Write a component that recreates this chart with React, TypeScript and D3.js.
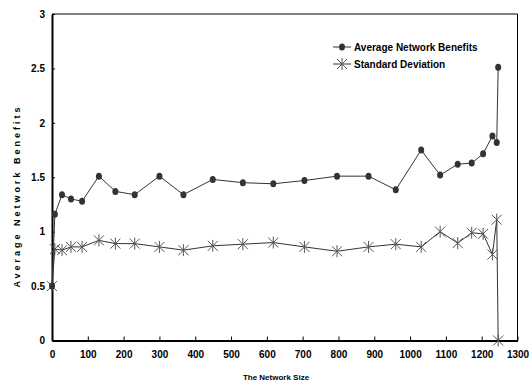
import * as d3 from "d3";
import { useEffect, useRef } from "react";

// network size for each sample
const sizes = [0, 8, 28, 53, 84, 131, 177, 231, 300, 367, 449, 533, 618, 705, 796, 884, 960, 1031, 1084, 1133, 1172, 1204, 1230, 1242, 1246];
// average network benefits
const avgBenefits = [0.5, 1.16, 1.34, 1.3, 1.28, 1.51, 1.37, 1.34, 1.51, 1.34, 1.48, 1.45, 1.44, 1.47, 1.51, 1.51, 1.385, 1.75, 1.52, 1.62, 1.63, 1.715, 1.88, 1.82, 2.51];
// standard deviation
const stdDev = [0.5, 0.84, 0.83, 0.86, 0.86, 0.92, 0.89, 0.89, 0.86, 0.83, 0.87, 0.885, 0.9, 0.86, 0.82, 0.86, 0.885, 0.86, 1.0, 0.895, 0.99, 0.98, 0.79, 1.11, 0];

const xTicks = [0, 100, 200, 300, 400, 500, 600, 700, 800, 900, 1000, 1100, 1200, 1300];
const yTicks = [0, 0.5, 1, 1.5, 2, 2.5, 3];

const W = 532;
const H = 388;
const FONT = "'Liberation Sans', Arial, sans-serif";

export default function App() {
    const ref = useRef<SVGSVGElement>(null);

    useEffect(() => {
        const svg = d3.select(ref.current);
        svg.selectAll("*").remove();

        const x = d3.scaleLinear().domain([0, 1300]).range([52, 517.5]);
        const y = d3.scaleLinear().domain([0, 3]).range([340.5, 14]);

        // frame: thin top/right, heavy left/bottom
        svg.append("line").attr("x1", x(0)).attr("x2", x(1300)).attr("y1", y(3)).attr("y2", y(3))
            .attr("stroke", "#000").attr("stroke-width", 1);
        svg.append("line").attr("x1", x(1300)).attr("x2", x(1300)).attr("y1", y(3)).attr("y2", y(0))
            .attr("stroke", "#000").attr("stroke-width", 1);

        // x axis
        const xAxis = d3.axisBottom(x).tickValues(xTicks).tickSizeInner(-4).tickSizeOuter(0).tickPadding(10)
            .tickFormat(d3.format("d"));
        const gx = svg.append("g").attr("transform", `translate(0,${y(0)})`).call(xAxis);
        gx.select(".domain").attr("stroke", "#000").attr("stroke-width", 2);
        gx.selectAll(".tick line").attr("stroke", "#000").attr("stroke-width", 1);
        gx.selectAll(".tick text").attr("font-family", FONT).attr("font-size", 10).attr("font-weight", "bold")
            .attr("fill", "#000").attr("dy", "0.71em");

        // y axis
        const yAxis = d3.axisLeft(y).tickValues(yTicks).tickSizeInner(-3).tickSizeOuter(0).tickPadding(7)
            .tickFormat((d) => String(d));
        const gy = svg.append("g").attr("transform", `translate(${x(0)},0)`).call(yAxis);
        gy.select(".domain").attr("stroke", "#000").attr("stroke-width", 2);
        gy.selectAll(".tick line").attr("stroke", "#000").attr("stroke-width", 1);
        gy.selectAll(".tick text").attr("font-family", FONT).attr("font-size", 10).attr("font-weight", "bold")
            .attr("fill", "#000");

        // axis titles
        svg.append("text").attr("x", 276).attr("y", 380).attr("text-anchor", "middle")
            .attr("font-family", FONT).attr("font-size", 8).attr("font-weight", "bold")
            .text("The Network Size");
        svg.append("text").attr("transform", "translate(20,196) rotate(-90)").attr("text-anchor", "middle")
            .attr("font-family", FONT).attr("font-size", 9).attr("font-weight", "bold")
            .attr("letter-spacing", "3px")
            .text("Average Network Benefits");

        const line = d3.line<number>().x((d, i) => x(sizes[i])).y((d) => y(d));

        // star marker (asterisk: X plus vertical bar)
        const star = (g: any, cx: number, cy: number) => {
            const s = 5;
            const p = `M${cx - s},${cy - s}L${cx + s},${cy + s}M${cx - s},${cy + s}L${cx + s},${cy - s}M${cx},${cy - s - 1}L${cx},${cy + s + 1}`;
            g.append("path").attr("d", p).attr("stroke", "#555").attr("stroke-width", 1).attr("fill", "none");
        };

        // std dev series
        svg.append("path").datum(stdDev).attr("fill", "none").attr("stroke", "#333").attr("stroke-width", 1)
            .attr("d", line);
        const gs = svg.append("g");
        stdDev.forEach((d, i) => star(gs, x(sizes[i]), y(d)));

        // average series
        svg.append("path").datum(avgBenefits).attr("fill", "none").attr("stroke", "#333").attr("stroke-width", 1)
            .attr("d", line);
        svg.append("g").selectAll("ellipse").data(avgBenefits).enter().append("ellipse")
            .attr("cx", (d, i) => x(sizes[i])).attr("cy", (d) => y(d))
            .attr("rx", 3).attr("ry", 3.5).attr("fill", "#333");

        // legend
        const lg = svg.append("g");
        const items = ["Average Network Benefits", "Standard Deviation"];
        items.forEach((name, i) => {
            const ly = 47 + i * 17;
            lg.append("line").attr("x1", 333).attr("x2", 351).attr("y1", ly).attr("y2", ly)
                .attr("stroke", "#333").attr("stroke-width", 1);
            if (i === 0) {
                lg.append("ellipse").attr("cx", 342).attr("cy", ly).attr("rx", 3).attr("ry", 3.5).attr("fill", "#333");
            } else {
                star(lg, 342, ly);
            }
            lg.append("text").attr("x", 354).attr("y", ly).attr("dy", "0.35em")
                .attr("font-family", FONT).attr("font-size", 10).attr("font-weight", "bold")
                .text(name);
        });
    }, []);

    return (
        <svg ref={ref} width={W} height={H} style={{ position: "absolute", left: 0, top: 0, background: "#fff" }}></svg>
    );
}
